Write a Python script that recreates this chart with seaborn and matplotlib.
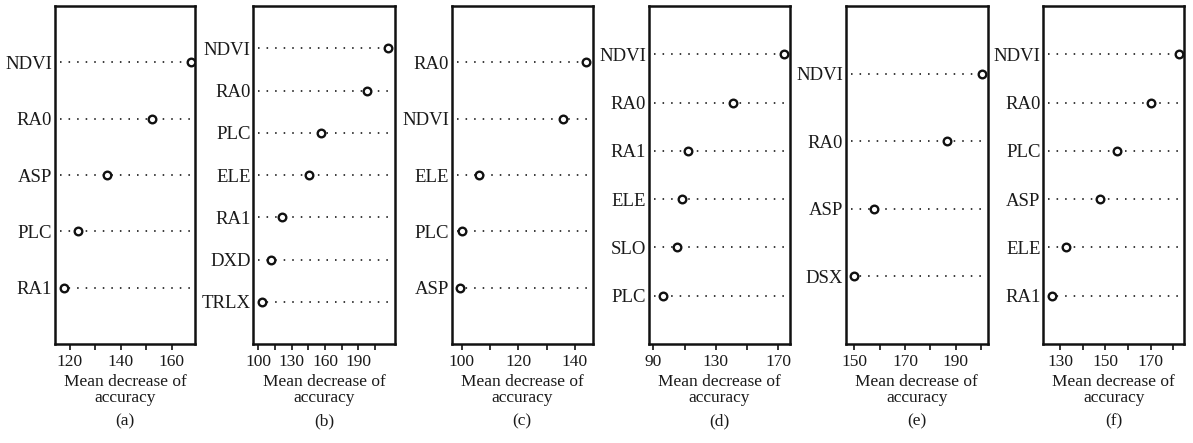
import numpy as np
import pandas as pd
import matplotlib
matplotlib.use("Agg")
import matplotlib.pyplot as plt
import seaborn as sns

# ---- data ----
vars_a = ["NDVI", "RA0", "ASP", "PLC", "RA1"]
vals_a = [167.5, 152.2, 134.4, 123.3, 117.8]

vars_b = ["NDVI", "RA0", "PLC", "ELE", "RA1", "DXD", "TRLX"]
vals_b = [217.0, 197.7, 156.5, 146.0, 121.0, 111.2, 103.0]

vars_c = ["RA0", "NDVI", "ELE", "PLC", "ASP"]
vals_c = [143.9, 135.9, 106.1, 100.0, 99.2]

vars_d = ["NDVI", "RA0", "RA1", "ELE", "SLO", "PLC"]
vals_d = [173.6, 141.2, 112.4, 108.6, 105.0, 96.0]

vars_e = ["NDVI", "RA0", "ASP", "DSX"]
vals_e = [200.4, 186.8, 157.8, 150.0]

vars_f = ["NDVI", "RA0", "PLC", "ASP", "ELE", "RA1"]
vals_f = [182.4, 170.1, 155.0, 147.6, 132.6, 126.5]

panel_labels = ["(a)", "(b)", "(c)", "(d)", "(e)", "(f)"]
x_title = "Mean decrease of\naccuracy"

# axis ticks (all tick marks) and which of them carry a label
ticks_a = [120, 130, 140, 150, 160]
lab_a = [120, 140, 160]
ticks_b = [100, 115, 130, 145, 160, 175, 190, 205]
lab_b = [100, 130, 160, 190]
ticks_c = [100, 110, 120, 130, 140]
lab_c = [100, 120, 140]
ticks_d = [90, 110, 130, 150, 170]
lab_d = [90, 130, 170]
ticks_e = [150, 160, 170, 180, 190, 200]
lab_e = [150, 170, 190]
ticks_f = [130, 140, 150, 160, 170, 180]
lab_f = [130, 150, 170]

# ---- layout (pixels of a 1193x443 figure) ----
W, H = 1193, 443
box_lr = [(55, 195), (253.3, 395), (451.7, 592.7), (649, 790), (846, 987.7), (1043.3, 1184.3)]
box_top, box_bot = 6, 344
xlims = [(114.1, 169.2), (95.5, 223.0), (96.4, 146.3), (87.2, 177.5), (146.7, 202.7), (122.6, 184.8)]

panels = [
    (vars_a, vals_a, ticks_a, lab_a),
    (vars_b, vals_b, ticks_b, lab_b),
    (vars_c, vals_c, ticks_c, lab_c),
    (vars_d, vals_d, ticks_d, lab_d),
    (vars_e, vals_e, ticks_e, lab_e),
    (vars_f, vals_f, ticks_f, lab_f),
]

sns.set_theme(style="white")
plt.rcParams["font.family"] = ["Liberation Serif", "DejaVu Serif"]

fig = plt.figure(figsize=(W / 100, H / 100), dpi=100)
fig.patch.set_facecolor("white")

for i, ((names, vals, ticks, labs), (l, r), xl, plab) in enumerate(
        zip(panels, box_lr, xlims, panel_labels)):
    ax = fig.add_axes([l / W, 1 - box_bot / H, (r - l) / W, (box_bot - box_top) / H])
    n = len(names)
    df = pd.DataFrame({"var": names, "val": vals, "pos": np.arange(n, 0, -1)})
    for p in df["pos"]:
        ax.axhline(p, xmin=0.035, xmax=0.985, color="#3a3a3a", lw=1.4,
                   linestyle=(0, (0.8, 3.6)), zorder=1)
    sns.scatterplot(data=df, x="val", y="pos", ax=ax, marker="o", s=30,
                    facecolor="white", edgecolor="#111111", linewidth=1.7,
                    zorder=3, legend=False)
    ax.set_xlim(*xl)
    ax.set_ylim(0, n + 1)
    ax.set_yticks(df["pos"])
    ax.set_yticklabels(names, fontsize=13.5, color="#1a1a1a")
    ax.set_xticks(ticks)
    ax.set_xticklabels([str(t) if t in labs else "" for t in ticks],
                       fontsize=12.5, color="#1a1a1a")
    ax.tick_params(axis="y", length=0, pad=2)
    ax.tick_params(axis="x", bottom=True, length=4, width=1.2, direction="out",
                   pad=3, color="#111111")
    ax.set_xlabel(x_title, fontsize=12.5, labelpad=3, linespacing=1.05,
                  color="#1a1a1a")
    ax.set_ylabel("")
    for sp in ax.spines.values():
        sp.set_visible(True)
        sp.set_color("#111111")
        sp.set_linewidth(1.8)
    ax.grid(False)
    ax.text(0.5, -(421 - box_bot) / (box_bot - box_top), plab,
            transform=ax.transAxes, ha="center", va="center",
            fontsize=12.5, color="#1a1a1a")

fig.savefig("out.png", dpi=100, facecolor="white")
